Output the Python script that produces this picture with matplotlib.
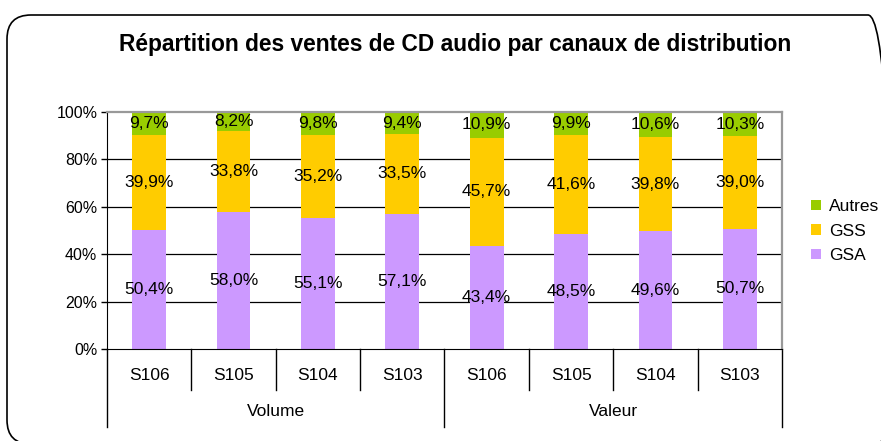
import matplotlib
matplotlib.use('Agg')
import matplotlib.pyplot as plt
import matplotlib.transforms as mtransforms
from matplotlib.patches import FancyBboxPatch, Patch

# ── Data ───────────────────────────────────────────────────────────────────────
TITLE = 'Répartition des ventes de CD audio par canaux de distribution'
PERIODS = ['S106', 'S105', 'S104', 'S103', 'S106', 'S105', 'S104', 'S103']
GROUPS = ['Volume', 'Valeur']
GROUP_SIZE = 4

GSA = [50.4, 58.0, 55.1, 57.1, 43.4, 48.5, 49.6, 50.7]
GSS = [39.9, 33.8, 35.2, 33.5, 45.7, 41.6, 39.8, 39.0]
AUTRES = [9.7, 8.2, 9.8, 9.4, 10.9, 9.9, 10.6, 10.3]

SERIES = [('GSA', GSA, '#CC99FF'), ('GSS', GSS, '#FFCC00'), ('Autres', AUTRES, '#99CC00')]

plt.rcParams['font.family'] = ['Liberation Sans', 'DejaVu Sans']

W, H = 881, 441
fig = plt.figure(figsize=(W / 100, H / 100), dpi=100)

# rounded outer frame (pixel coords)
frame = FancyBboxPatch((7, -3), 885, 429, boxstyle='round,pad=0,rounding_size=24',
                       transform=mtransforms.IdentityTransform(),
                       facecolor='none', edgecolor='black', linewidth=1.2, zorder=0)
fig.patches.append(frame)

left, right, top, bottom = 107, 782, 112, 349
ax = fig.add_axes([left / W, (H - bottom) / H, (right - left) / W, (bottom - top) / H])
ax.set_facecolor('none')

x = list(range(len(PERIODS)))
base = [0.0] * len(PERIODS)
handles = {}
for name, vals, col in SERIES:
    ax.bar(x, vals, width=0.4, bottom=base, color=col, zorder=2)
    for i, v in enumerate(vals):
        ax.text(i, base[i] + v / 2, f'{v:.1f}%'.replace('.', ','), ha='center', va='center',
                fontsize=12.5, color='black', zorder=3)
    base = [b + v for b, v in zip(base, vals)]
    handles[name] = Patch(facecolor=col, edgecolor='none')

ax.set_xlim(-0.5, len(PERIODS) - 0.5)
ax.set_ylim(0, 100)
ax.set_yticks([0, 20, 40, 60, 80, 100])
ax.set_yticklabels([f'{t}%' for t in [0, 20, 40, 60, 80, 100]], fontsize=11.5)
ax.tick_params(axis='y', direction='out', length=4, width=1, pad=3)
ax.set_xticks([])
for t in [20, 40, 60, 80]:
    ax.axhline(t, color='black', linewidth=0.9, zorder=1)

ax.spines['left'].set_color('black')
ax.spines['bottom'].set_color('black')
ax.spines['top'].set_color('#999999')
ax.spines['right'].set_color('#999999')
ax.spines['top'].set_linewidth(1.6)
ax.spines['right'].set_linewidth(1.6)

# multi-level category axis
ph = bottom - top
trans = mtransforms.blended_transform_factory(ax.transData, ax.transAxes)
y_cat = -41 / ph
y_grp = -78 / ph
for i in range(len(PERIODS) + 1):
    xb = i - 0.5
    y_end = y_grp if i % GROUP_SIZE == 0 else y_cat
    ax.plot([xb, xb], [0, y_end], color='black', linewidth=1, transform=trans, clip_on=False)
for i, lab in enumerate(PERIODS):
    ax.text(i, -27 / ph, lab, ha='center', va='center', fontsize=12.5, transform=trans)
for g, lab in enumerate(GROUPS):
    xc = g * GROUP_SIZE + (GROUP_SIZE - 1) / 2
    ax.text(xc, -63 / ph, lab, ha='center', va='center', fontsize=12.5, transform=trans)

fig.text(455 / W, 1 - 45 / H, TITLE, ha='center', va='center', fontsize=16.4, fontweight='bold')

fig.legend([handles['Autres'], handles['GSS'], handles['GSA']], ['Autres', 'GSS', 'GSA'],
           loc='center left', bbox_to_anchor=(811 / W, 1 - 231 / H), frameon=False,
           fontsize=12.5, handlelength=0.55, handleheight=0.55, handletextpad=0.5,
           labelspacing=0.55, borderpad=0, borderaxespad=0)

fig.savefig('out.png', dpi=100)
